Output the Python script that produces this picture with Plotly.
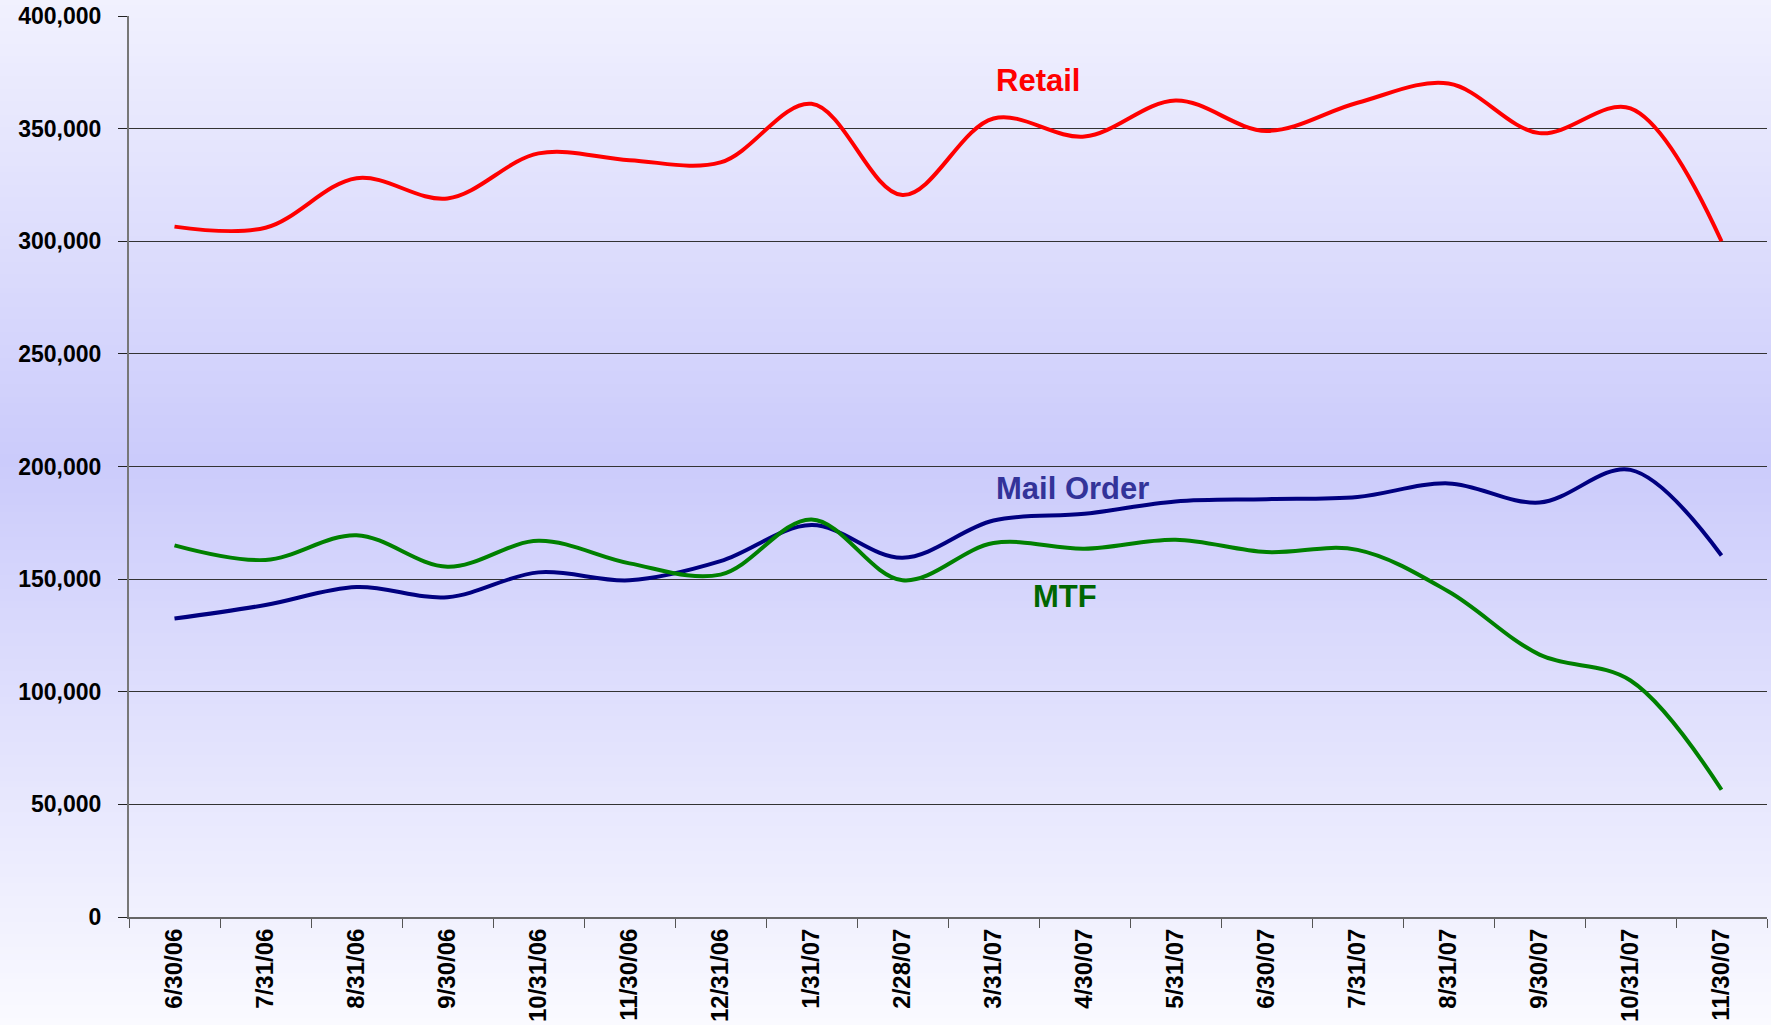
import plotly.graph_objects as go

W, H = 1771, 1025
M_L, M_R, M_T, M_B = 129, 4, 16, 108

months = ["6/30/06", "7/31/06", "8/31/06", "9/30/06", "10/31/06", "11/30/06",
          "12/31/06", "1/31/07", "2/28/07", "3/31/07", "4/30/07", "5/31/07",
          "6/30/07", "7/31/07", "8/31/07", "9/30/07", "10/31/07", "11/30/07"]

retail = [306500, 306000, 328000, 319000, 339000, 336000, 335000, 361000, 320500,
          354500, 346500, 362500, 349000, 361500, 370000, 348000, 359000, 300000]
mail_order = [132500, 138500, 146500, 142000, 153000, 149500, 158000, 174000, 159500,
              176000, 179000, 184500, 185500, 186500, 192500, 184000, 198500, 160500]
mtf = [165000, 158500, 169500, 155500, 167000, 157000, 152000, 176500, 149500,
       166000, 163500, 167500, 162000, 163000, 144500, 116500, 105000, 56500]

FONT = "Liberation Sans, Arial, sans-serif"


def _gradient_shapes(n=160):
    # vertical lavender gradient over the whole page: light, darker mid, light
    stops = [(0.0, (241, 241, 254)), (0.45, (203, 203, 251)), (1.0, (250, 250, 255))]
    ph = H - M_T - M_B
    shapes = []
    for k in range(n):
        top = H * k / n
        bot = H * (k + 1) / n
        f = (top + bot) / 2 / H
        for (a, ca), (b, cb) in zip(stops, stops[1:]):
            if a <= f <= b:
                t = (f - a) / (b - a)
                c = [round(ca[i] + (cb[i] - ca[i]) * t) for i in range(3)]
                break
        shapes.append(dict(
            type="rect", xref="paper", yref="paper", layer="below",
            x0=-M_L / (W - M_L - M_R) - 0.01, x1=1 + M_R / (W - M_L - M_R) + 0.01,
            y0=(H - bot - M_B) / ph - 0.001, y1=(H - top - M_B) / ph + 0.001,
            fillcolor=f"rgb({c[0]},{c[1]},{c[2]})", line=dict(width=0),
        ))
    return shapes


fig = go.Figure()
for name, vals, color in [("Retail", retail, "#ff0000"),
                          ("Mail Order", mail_order, "#000080"),
                          ("MTF", mtf, "#008000")]:
    fig.add_scatter(x=months, y=vals, name=name, mode="lines",
                    line=dict(color=color, width=4, shape="spline", smoothing=1.0))

labels = [("Retail", 0.555, 0.928, "#ff0000"),
          ("Mail Order", 0.576, 0.476, "#333399"),
          ("MTF", 0.5715, 0.356, "#006600")]
for text, x, y, color in labels:
    fig.add_annotation(text=f"<b>{text}</b>", x=x, y=y, xref="paper", yref="paper",
                       xanchor="center", yanchor="middle", showarrow=False,
                       font=dict(family=FONT, size=31, color=color))

fig.update_layout(
    width=W, height=H,
    margin=dict(l=M_L, r=M_R, t=M_T, b=M_B, autoexpand=False),
    paper_bgcolor="rgba(0,0,0,0)", plot_bgcolor="rgba(0,0,0,0)",
    showlegend=False,
    font=dict(family=FONT, color="black"),
    shapes=_gradient_shapes(),
)
fig.update_xaxes(
    type="category", range=[-0.5, 17.5], tickangle=-90, tickson="boundaries",
    ticks="outside", ticklen=9, tickcolor="#555", showline=True, linecolor="#666",
    linewidth=2, showgrid=False, automargin=False,
    tickfont=dict(family=FONT, size=24, weight="bold"),
)
fig.update_yaxes(
    range=[0, 400000], dtick=50000, tickformat=",", ticks="outside", ticklen=9,
    tickcolor="#222", showline=True, linecolor="#777", linewidth=2,
    showgrid=True, gridcolor="#333", gridwidth=1, zeroline=False, automargin=False,
    ticklabelstandoff=12, tickfont=dict(family=FONT, size=23, weight="bold"),
)

fig.write_html("out.html", config={"displayModeBar": False},
               post_script="document.body.style.margin='0';")
